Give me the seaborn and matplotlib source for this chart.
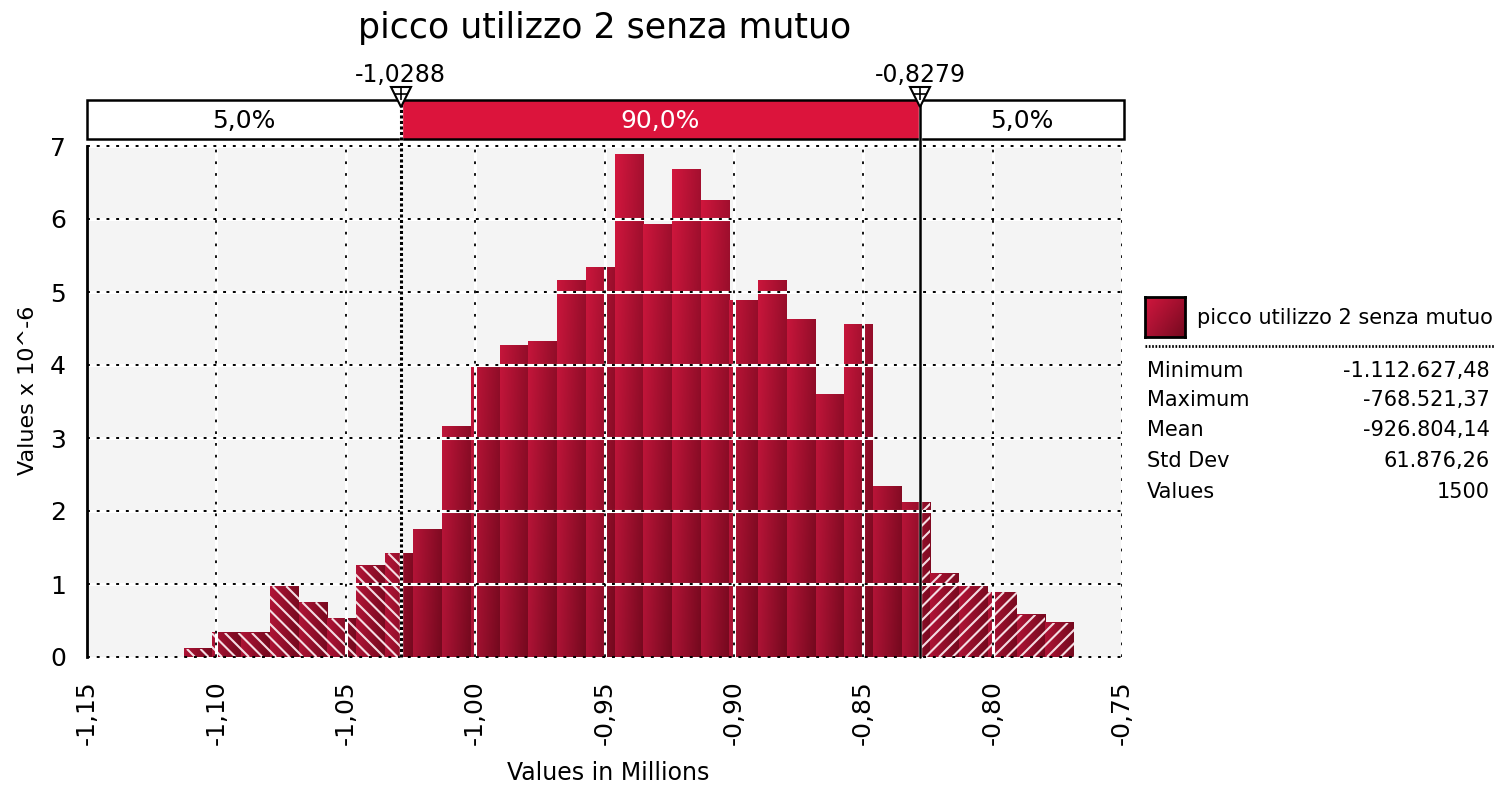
import numpy as np
import pandas as pd
import matplotlib
matplotlib.use("Agg")
import matplotlib.pyplot as plt
import matplotlib.transforms as mtransforms
from matplotlib.patches import Rectangle
from matplotlib.lines import Line2D
from matplotlib.collections import LineCollection
import seaborn as sns

# --- dati ---
title = "picco utilizzo 2 senza mutuo"
v_min = -1.11262748   # milioni
v_max = -0.76852137
n_bins = 31
density = [0.11, 0.33, 0.33, 0.97, 0.75, 0.53, 1.25, 1.42, 1.74, 3.16,
           3.96, 4.27, 4.32, 5.16, 5.34, 6.89, 5.93, 6.68, 6.26, 4.88,
           5.16, 4.63, 3.60, 4.56, 2.34, 2.12, 1.14, 0.97, 0.89, 0.58, 0.47]
p5 = -1.0288
p95 = -0.8279
p_labels = ["-1,0288", "-0,8279"]
band_labels = ["5,0%", "90,0%", "5,0%"]
x_ticks = [-1.15, -1.10, -1.05, -1.00, -0.95, -0.90, -0.85, -0.80, -0.75]
x_tick_labels = ["-1,15", "-1,10", "-1,05", "-1,00", "-0,95", "-0,90", "-0,85", "-0,80", "-0,75"]
y_ticks = [0, 1, 2, 3, 4, 5, 6, 7]
stat_names = ["Minimum", "Maximum", "Mean", "Std Dev", "Values"]
stat_values = ["-1.112.627,48", "-768.521,37", "-926.804,14", "61.876,26", "1500"]

W, H = 1497, 786
sns.set_theme(style="white")
plt.rcParams['font.family'] = ['DejaVu Sans']
plt.rcParams['text.color'] = 'black'
plt.rcParams['axes.labelcolor'] = 'black'
plt.rcParams['xtick.color'] = 'black'
plt.rcParams['ytick.color'] = 'black'

fig = plt.figure(figsize=(W / 100, H / 100), dpi=100)
ax = fig.add_axes([87 / W, 1 - 657 / H, (1122 - 87) / W, (657 - 146) / H])
ax.set_facecolor("#F4F4F4")

edges = np.linspace(v_min, v_max, n_bins + 1)
df = pd.DataFrame({"x": (edges[:-1] + edges[1:]) / 2, "d": density})
sns.histplot(data=df, x="x", weights="d", bins=n_bins, binrange=(v_min, v_max), stat="count",
             ax=ax, color="#A51131", edgecolor="none", linewidth=0, alpha=1, zorder=2)
ax.set_xlim(-1.15, -0.75)
ax.set_ylim(0, 7)
ax.set_xlabel("")
ax.set_ylabel("")

# sfumatura rosso (alto-sinistra chiaro, basso-destra scuro)
tl = np.array([0xD4, 0x17, 0x3E]) / 255
tr = np.array([0xA6, 0x10, 0x30]) / 255
bl = np.array([0xAC, 0x13, 0x35]) / 255
br = np.array([0x74, 0x09, 0x1E]) / 255
y_top = 7.0


def gradient(h, ny=60, nx=32):
    s = (np.linspace(0, h, ny) / y_top)[:, None, None]
    t = np.linspace(0, 1, nx)[None, :, None]
    return bl * (1 - s) * (1 - t) + br * (1 - s) * t + tl * s * (1 - t) + tr * s * t


def hatch_rect(a, b, h, back):
    # righe diagonali bianche, ritagliate sul rettangolo
    clip = Rectangle((a, 0), b - a, h, fill=False, lw=0, transform=ax.transData)
    ax.add_patch(clip)
    (x0, y0), (x1, y1) = ax.transData.transform([(a, 0), (b, h)])
    step = 13.5
    segs = []
    if back:
        for c in np.arange(np.floor((x0 + y0) / step) * step, x1 + y1 + step, step):
            segs.append([(c - y0, y0), (c - y1, y1)])
    else:
        for c in np.arange(np.floor((x0 - y1) / step) * step, x1 - y0 + step, step):
            segs.append([(c + y0, y0), (c + y1, y1)])
    lc = LineCollection(segs, colors="#F4DCE2", linewidths=1.5,
                        transform=mtransforms.IdentityTransform(), zorder=2.2)
    ax.add_collection(lc)
    lc.set_clip_path(clip)


bars = list(ax.patches)
for p in bars:
    x0, w, h = p.get_x(), p.get_width(), p.get_height()
    if h <= 0:
        continue
    ax.imshow(gradient(h), extent=[x0, x0 + w, 0, h], origin="lower",
              aspect="auto", interpolation="bilinear", zorder=2.1)
    # code tratteggiate
    for lo, hi, back in [(v_min - 1, p5, True), (p95, v_max + 1, False)]:
        a, b = max(x0, lo), min(x0 + w, hi)
        if b > a:
            hatch_rect(a, b, h, back)

ax.set_xlim(-1.15, -0.75)
ax.set_ylim(0, 7)

# griglia: linea bianca + puntini neri
for y in y_ticks:
    if y > 0:
        ax.axhline(y, color="white", lw=2.2, zorder=3)
    ax.axhline(y, color="black", lw=1.4, ls=(0, (1.5, 3.5)), zorder=3.1, clip_on=False)
for x in x_ticks[1:]:
    ax.axvline(x, color="white", lw=2.2, zorder=3)
    ax.axvline(x, color="black", lw=1.3, ls=(0, (1.5, 5)), zorder=3.1)

ax.set_xticks(x_ticks)
ax.set_xticklabels(x_tick_labels, rotation=90)
ax.set_yticks(y_ticks)
ax.tick_params(axis="x", labelsize=18, length=5, width=1.5, pad=12, direction="out")
ax.tick_params(axis="y", labelsize=18, length=10, width=1.5, pad=5, direction="out")
for side in ["top", "right", "bottom"]:
    ax.spines[side].set_visible(False)
ax.spines["left"].set_color("black")
ax.spines["left"].set_linewidth(2)
ax.spines["left"].set_zorder(5)

# banda dei percentili sopra il grafico
trans = mtransforms.blended_transform_factory(ax.transData, ax.transAxes)
b_lo, b_hi = (657 - 139) / 511, (657 - 100) / 511
band_right = -0.7492
segs = [(-1.15, p5, "white", "black"), (p5, p95, "#DC143C", "white"), (p95, band_right, "white", "black")]
for (a, b, fc, tc), lab in zip(segs, band_labels):
    ax.add_patch(Rectangle((a, b_lo), b - a, b_hi - b_lo, facecolor=fc, edgecolor="black",
                           lw=1.8, transform=trans, clip_on=False, zorder=6))
    ax.text((a + b) / 2, (b_lo + b_hi) / 2 - 0.002, lab, transform=trans, ha="center", va="center",
            fontsize=18, color=tc, zorder=7)

for pv, lab, dotted in zip([p5, p95], p_labels, [True, False]):
    ax.plot([pv, pv], [0, b_hi], transform=trans, color="white", lw=2.4, clip_on=False, zorder=6.4)
    if dotted:
        ax.plot([pv, pv], [0, b_hi], transform=trans, color="black", lw=2.2, ls=(0, (1, 0.8)),
                clip_on=False, zorder=6.5)
    else:
        ax.plot([pv, pv], [0, b_hi], transform=trans, color="black", lw=1.8,
                clip_on=False, zorder=6.5)
    ax.plot([pv], [b_hi + 0.005], transform=trans, marker="v", ms=15, mfc="white", mec="black",
            mew=1.5, clip_on=False, zorder=8)
    ax.plot([pv], [b_hi + 0.012], transform=trans, marker="+", ms=8, mec="black",
            mew=1.2, clip_on=False, zorder=9)
    ax.text(pv, (657 - 75) / 511, lab, transform=trans, ha="center", va="center", fontsize=17)

# titolo ed etichette assi
fig.text(605 / W, 1 - 28 / H, title, ha="center", va="center", fontsize=25)
fig.text(608 / W, 1 - 773 / H, "Values in Millions", ha="center", va="center", fontsize=17)
fig.text(28 / W, 1 - 390 / H, "Values x 10^-6", ha="center", va="center", rotation=90, fontsize=16)

# legenda e statistiche
lax = fig.add_axes([1145 / W, 1 - 337 / H, 40 / W, 40 / H])
lax.imshow(gradient(y_top * 0.9), origin="lower", aspect="auto", interpolation="bilinear")
lax.set_xticks([])
lax.set_yticks([])
for sp in lax.spines.values():
    sp.set_color("black")
    sp.set_linewidth(2)
fig.text(1197 / W, 1 - 318 / H, title, ha="left", va="center", fontsize=15)
fig.add_artist(Line2D([1145 / W, 1495 / W], [1 - 346 / H] * 2, transform=fig.transFigure,
                      color="black", lw=2, ls=(0, (0.6, 0.6))))
row_y = [371, 400, 430, 461, 492]
for name, val, yy in zip(stat_names, stat_values, row_y):
    fig.text(1147 / W, 1 - yy / H, name, ha="left", va="center", fontsize=15)
    fig.text(1490 / W, 1 - yy / H, val, ha="right", va="center", fontsize=15)

fig.savefig("out.png", dpi=100, facecolor="white")
